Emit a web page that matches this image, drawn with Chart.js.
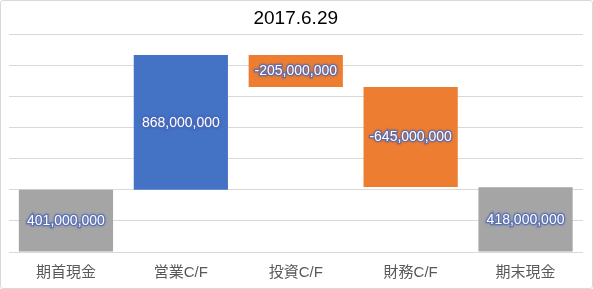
<!DOCTYPE html>
<html>
<head>
<meta charset="utf-8">
<script src="https://cdn.jsdelivr.net/npm/chart.js@4/dist/chart.umd.min.js"></script>
<style>
html,body{margin:0;padding:0;background:#fff;}
#wrap{position:absolute;left:0;top:0;width:591px;height:287px;border:1px solid #d9d9d9;border-radius:3px;}
canvas{display:block;}
</style>
</head>
<body>
<div id="wrap"><canvas id="c" width="591" height="287"></canvas></div>
<script>
const categories = ['期首現金','営業C/F','投資C/F','財務C/F','期末現金'];
const values = [401000000, 868000000, -205000000, -645000000, 418000000];
const kinds = ['total','delta','delta','delta','total'];
const titleText = '2017.6.29';
const yMin = 0, yMax = 1400000000, yStep = 200000000;

let run = 0;
const ranges = values.map((v,i)=>{
  if (kinds[i]==='total'){ run = v; return [0, v]; }
  const s = run; run += v; return [s, run];
});
const colors = values.map((v,i)=> kinds[i]==='total' ? '#A5A5A5' : (v>=0 ? '#4472C4' : '#ED7D31'));

const labelPlugin = {
  id:'vlabels',
  afterDatasetsDraw(chart){
    const ctx = chart.ctx;
    const meta = chart.getDatasetMeta(0);
    ctx.save();
    ctx.font = '14px "Liberation Sans", Arial, sans-serif';
    ctx.textAlign = 'center';
    ctx.textBaseline = 'middle';
    meta.data.forEach((el,i)=>{
      const cy = (el.y + el.base)/2 + 0.5;
      const txt = values[i].toLocaleString('en-US');
      ctx.shadowColor = 'rgba(60,80,160,0.8)';
      ctx.shadowBlur = 2;
      ctx.lineWidth = 2.5;
      ctx.strokeStyle = 'rgba(80,110,190,0.65)';
      ctx.strokeText(txt, el.x, cy);
      ctx.shadowBlur = 0;
      ctx.fillStyle = '#ffffff';
      ctx.fillText(txt, el.x, cy);
    });
    ctx.restore();
  }
};

new Chart(document.getElementById('c'), {
  type:'bar',
  data:{ labels: categories, datasets:[{ data: ranges, backgroundColor: colors, borderWidth:0, categoryPercentage:1, barPercentage:0.82 }]},
  options:{
    responsive:false, animation:false,
    layout:{ padding:{ left:7.5, right:9, top:0, bottom:0 } },
    plugins:{
      legend:{display:false}, tooltip:{enabled:false},
      title:{ display:true, text:titleText, color:'#000', font:{size:19, family:'"Liberation Sans", Arial, sans-serif', weight:'normal'}, padding:{top:6, bottom:5} }
    },
    scales:{
      x:{ grid:{display:false, drawTicks:false}, border:{display:false},
          afterFit(s){ s.height = 36; },
          ticks:{ color:'#595959', font:{size:15, family:'"Liberation Sans","Noto Sans CJK JP", sans-serif'}, padding:12, maxRotation:0 } },
      y:{ min:yMin, max:yMax, ticks:{ display:false, stepSize:yStep }, border:{display:false},
          grid:{ color:'#d9d9d9', drawTicks:false } }
    }
  },
  plugins:[labelPlugin]
});
</script>
</body>
</html>
